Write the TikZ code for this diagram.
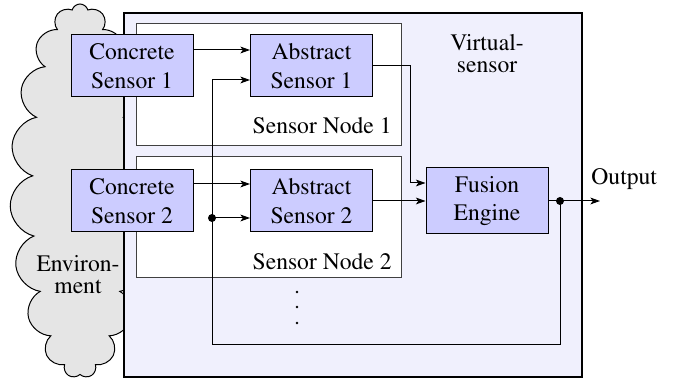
\documentclass[tikz,border=0pt]{standalone}
\usepackage[T1]{fontenc}
\usepackage{mathptmx}
\usetikzlibrary{shapes.symbols,arrows.meta,calc}

\definecolor{blockfill}{RGB}{204,204,255}
\definecolor{vsfill}{RGB}{240,240,253}
\definecolor{envfill}{RGB}{229,229,229}

\tikzset{
  block/.style={draw, fill=blockfill, line width=0.5pt, align=center,
    minimum width=61pt, minimum height=31pt, inner sep=0pt,
    font=\rmfamily\fontsize{11.8}{14.2}\selectfont},
  nodebox/.style={draw=black!75, fill=white, line width=0.5pt},
  lbl/.style={inner sep=0pt, align=center, font=\rmfamily\fontsize{11.8}{11.3}\selectfont},
  arr/.style={line width=0.5pt, -{Stealth[length=4.8pt,width=3.4pt,inset=1.2pt]}},
  wire/.style={line width=0.5pt},
  junction/.style={circle, fill=black, inner sep=0pt, minimum size=4pt},
}

\begin{document}
\begin{tikzpicture}[x=0.5pt, y=-0.5pt]
\useasboundingbox (0,0) rectangle (673,383);

% environment cloud, partly hidden behind the virtual sensor
\node[cloud, draw, fill=envfill, line width=0.5pt, cloud puffs=19, aspect=0.36,
      minimum width=70pt, minimum height=187pt, inner sep=0pt] (env) at (80,191) {};
\node[lbl, anchor=north] (envlbl) at (78,255) {Environ-\\ment};

% virtual sensor frame
\draw[line width=1pt, fill=vsfill] (124,13) rectangle (582,377);
\node[lbl, anchor=north] (vslbl) at (487,34) {Virtual-\\sensor};

% sensor node frames
\draw[nodebox] (136,24) rectangle (401,146);
\draw[nodebox] (136,157) rectangle (401,278);
\node[lbl, anchor=base east] (sn1) at (392,134) {Sensor Node 1};
\node[lbl, anchor=base east] (sn2) at (392,270) {Sensor Node 2};

% blocks
\node[block] (c1) at (132,66) {Concrete\\Sensor 1};
\node[block] (c2) at (132,201) {Concrete\\Sensor 2};
\node[block] (a1) at (311.5,66) {Abstract\\Sensor 1};
\node[block] (a2) at (311.5,201) {Abstract\\Sensor 2};
\node[block, minimum height=33pt] (fus) at (487,201) {Fusion\\Engine};

% more sensor nodes
\foreach \yy in {292,307,323} \fill (297,\yy) circle (0.7pt);

% concrete -> abstract
\draw[arr] ($(c1.east)+(0,-16)$) -- ($(a1.west)+(0,-16)$);
\draw[arr] ($(c2.east)+(0,-17)$) -- ($(a2.west)+(0,-17)$);

% abstract -> fusion
\coordinate (bend1) at (410,66);
\draw[arr] (a1.east) -- (bend1) |- ($(fus.west)+(0,-18)$);
\draw[arr] (a2.east) -- (fus.west);

% output and feedback
\coordinate (tap) at (560,201);
\coordinate (split) at (212,218);
\coordinate (out) at (600,201);
\draw[arr] (fus.east) -- (out);
\node[lbl, anchor=base west] (outlbl) at (591,185) {Output};
\draw[wire] (tap) |- (212,345) -- (split);
\draw[arr] (split) |- ($(a1.west)+(0,14)$);
\draw[arr] (split) -- (split -| a2.west);
\node[junction] at (tap) {};
\node[junction] at (split) {};
\end{tikzpicture}
\end{document}
